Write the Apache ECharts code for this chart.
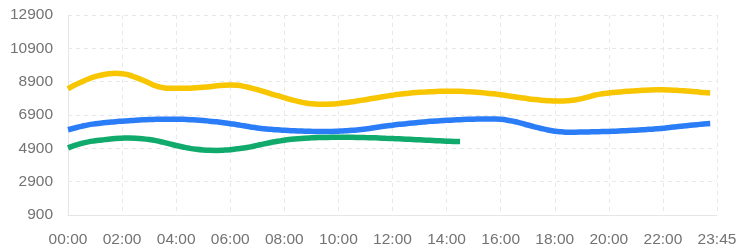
<!DOCTYPE html>
<html>
<head>
<meta charset="utf-8">
<script src="https://cdn.jsdelivr.net/npm/echarts@6/dist/echarts.min.js"></script>
<style>
  html, body { margin: 0; padding: 0; background: #fff; }
  #main { width: 740px; height: 249px; }
</style>
</head>
<body>
<div id="main"></div>
<script>
// x 轴刻度文字（每2小时一个，最后一个是23:45）
var tickLabels = ['00:00', '02:00', '04:00', '06:00', '08:00', '10:00', '12:00',
                  '14:00', '16:00', '18:00', '20:00', '22:00', '23:45'];

// 每15分钟一个点，从 00:00 开始
var yellowData = [8470, 8700, 8880, 9060, 9200, 9300, 9370, 9400, 9380, 9300,
                  9160, 9000, 8820, 8650, 8540, 8500, 8500, 8500, 8510, 8530,
                  8560, 8600, 8650, 8690, 8700, 8680, 8620, 8530, 8420, 8300,
                  8170, 8060, 7940, 7820, 7720, 7630, 7570, 7550, 7550, 7560,
                  7590, 7630, 7690, 7750, 7820, 7890, 7950, 8020, 8090, 8150,
                  8190, 8230, 8260, 8280, 8300, 8320, 8330, 8330, 8320, 8300,
                  8280, 8250, 8210, 8170, 8120, 8060, 8000, 7940, 7880, 7830,
                  7790, 7760, 7740, 7740, 7760, 7800, 7880, 7990, 8100, 8170,
                  8220, 8260, 8300, 8330, 8360, 8380, 8400, 8410, 8410, 8400,
                  8380, 8350, 8320, 8290, 8250, 8220];

var blueData = [6015, 6120, 6220, 6310, 6370, 6420, 6460, 6500, 6530, 6560,
                6590, 6610, 6630, 6640, 6650, 6650, 6650, 6640, 6620, 6600,
                6570, 6530, 6490, 6440, 6380, 6320, 6250, 6180, 6120, 6080,
                6040, 6010, 5980, 5960, 5940, 5930, 5920, 5915, 5910, 5915,
                5930, 5950, 5980, 6010, 6060, 6120, 6180, 6240, 6290, 6340,
                6380, 6420, 6460, 6500, 6530, 6560, 6580, 6600, 6620, 6640,
                6650, 6660, 6665, 6660, 6640, 6590, 6510, 6410, 6300, 6190,
                6090, 6000, 5930, 5890, 5870, 5870, 5875, 5885, 5895, 5905,
                5915, 5930, 5950, 5970, 5990, 6010, 6040, 6070, 6110, 6150,
                6200, 6240, 6280, 6320, 6360, 6390];

// 绿色只到 14:30
var greenData = [4930, 5080, 5200, 5290, 5350, 5400, 5450, 5490, 5510, 5520,
                 5510, 5480, 5430, 5360, 5270, 5170, 5070, 4980, 4900, 4840,
                 4800, 4780, 4775, 4790, 4820, 4870, 4920, 4990, 5080, 5170,
                 5250, 5320, 5390, 5440, 5480, 5510, 5530, 5545, 5555, 5560,
                 5560, 5560, 5560, 5555, 5545, 5535, 5520, 5500, 5485, 5470,
                 5450, 5430, 5410, 5390, 5370, 5350, 5330, 5315, 5305];

function toPoints(arr) {
    var pts = [];
    for (var i = 0; i < arr.length; i++) {
        pts.push([i, arr[i]]);
    }
    return pts;
}

var myChart = echarts.init(document.getElementById('main'));
var labelStyle = {
    color: '#737373',
    fontSize: 15.5,
    fontFamily: 'Liberation Sans'
};
var option = {
    animation: false,
    grid: { left: 68, right: 23, top: 15, bottom: 34 },
    xAxis: {
        type: 'value',
        min: 0,
        max: 96,
        interval: 8,
        axisLine: { show: true, lineStyle: { color: '#e6e6e6' } },
        axisTick: { show: false },
        axisLabel: Object.assign({
            margin: 17,
            formatter: function (v) { return tickLabels[Math.round(v / 8)]; }
        }, labelStyle),
        splitLine: { show: true, lineStyle: { color: '#e8e8e8', type: [4, 4] } }
    },
    yAxis: {
        type: 'value',
        min: 900,
        max: 12900,
        interval: 2000,
        axisLine: { show: true, lineStyle: { color: '#e6e6e6' } },
        axisTick: { show: false },
        axisLabel: Object.assign({
            margin: 15,
            formatter: function (v) { return String(v); }
        }, labelStyle),
        splitLine: { show: true, lineStyle: { color: '#e8e8e8', type: [4, 4] } }
    },
    series: [
        {
            name: 'yellow',
            type: 'line',
            smooth: true,
            showSymbol: false,
            data: toPoints(yellowData),
            lineStyle: { width: 5.5, color: '#f7c600' },
            itemStyle: { color: '#f7c600' }
        },
        {
            name: 'blue',
            type: 'line',
            smooth: true,
            showSymbol: false,
            data: toPoints(blueData),
            lineStyle: { width: 5.5, color: '#2a7df7' },
            itemStyle: { color: '#2a7df7' }
        },
        {
            name: 'green',
            type: 'line',
            smooth: true,
            showSymbol: false,
            data: toPoints(greenData),
            lineStyle: { width: 5.5, color: '#10aa6c' },
            itemStyle: { color: '#10aa6c' }
        }
    ]
};
myChart.setOption(option);
</script>
</body>
</html>
